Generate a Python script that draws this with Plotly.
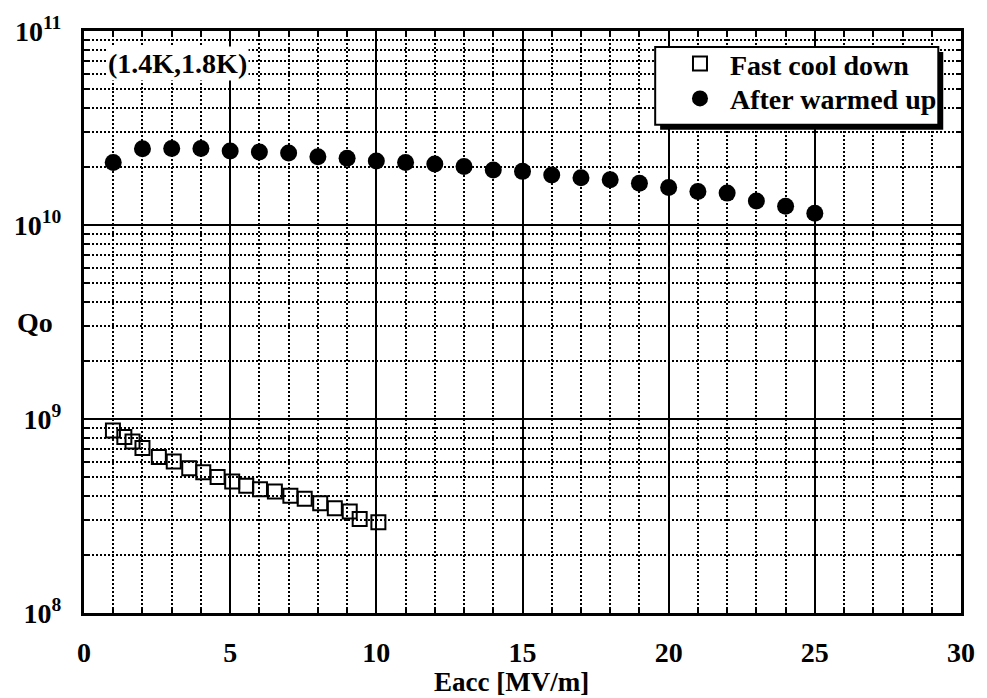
import plotly.graph_objects as go

# Q0 versus accelerating field for the two cooling conditions
eacc_fast = [0.99, 1.38, 1.66, 2.0, 2.56, 3.07, 3.6, 4.08, 4.57, 5.07,
             5.55, 6.02, 6.53, 7.06, 7.55, 8.08, 8.58, 9.09, 9.43, 10.07]
q0_fast = [8.73e8, 8.07e8, 7.66e8, 7.08e8, 6.37e8, 6.04e8, 5.58e8, 5.32e8, 5.02e8, 4.76e8,
           4.53e8, 4.35e8, 4.23e8, 4.02e8, 3.88e8, 3.68e8, 3.47e8, 3.34e8, 3.05e8, 2.94e8]

eacc_warm = [1, 2, 3, 4, 5, 6, 7, 8, 9, 10, 11, 12, 13,
             14, 15, 16, 17, 18, 19, 20, 21, 22, 23, 24, 25]
q0_warm = [2.10e10, 2.47e10, 2.48e10, 2.48e10, 2.41e10, 2.38e10, 2.35e10, 2.25e10, 2.21e10,
           2.14e10, 2.10e10, 2.06e10, 2.00e10, 1.92e10, 1.89e10, 1.81e10, 1.75e10, 1.71e10,
           1.64e10, 1.56e10, 1.49e10, 1.46e10, 1.33e10, 1.25e10, 1.15e10]

x_ticks = [0, 5, 10, 15, 20, 25, 30]
y_ticks = [1e8, 1e9, 1e10, 1e11]
y_ticktext = ["10<sup>8</sup>", "10<sup>9</sup>", "10<sup>10</sup>", "10<sup>11</sup>"]
y_minor = [k * 10 ** d for d in (8, 9, 10) for k in range(2, 10)]

series_names = ["Fast cool down", "After warmed up"]
temp_label = "(1.4K,1.8K)"
x_title = "Eacc [MV/m]"
y_title = "Qo"

W, H = 987, 698
ML, MR, MT, MB = 84, 14, 29, 85
PW, PH = W - ML - MR, H - MT - MB


def px(x):
    return (x - ML) / PW


def py(y):
    return (H - MB - y) / PH


FONT = dict(family="Liberation Serif", size=28, color="black", weight="bold")

fig = go.Figure()
fig.add_trace(go.Scatter(
    x=eacc_fast, y=q0_fast, mode="markers", name=series_names[0], legend="legend",
    marker=dict(symbol="square-open", size=14, color="black", line=dict(width=2, color="black")),
))
fig.add_trace(go.Scatter(
    x=eacc_warm, y=q0_warm, mode="markers", name=series_names[1], legend="legend2",
    marker=dict(symbol="circle", size=17, color="black"),
))

axis_common = dict(
    showline=True, linecolor="black", linewidth=3, mirror="ticks",
    ticks="inside", ticklen=8, tickwidth=2, tickcolor="black",
    showgrid=True, gridcolor="black", gridwidth=2, zeroline=False,
    tickfont=FONT,
)
minor_common = dict(showgrid=True, gridcolor="black", griddash="2px,2px", gridwidth=2,
                    ticks="inside", ticklen=5, tickwidth=2, tickcolor="black")

fig.update_xaxes(
    range=[0, 30], tickvals=x_ticks, ticklabelstandoff=12,
    minor=dict(dtick=1, **minor_common),
    **axis_common,
)
fig.update_yaxes(
    type="log", range=[8, 11], tickvals=y_ticks, ticktext=y_ticktext, ticklabelstandoff=14,
    minor=dict(tickvals=y_minor, **minor_common),
    **axis_common,
)

# legend frame with drop shadow
shadow = 5
box = (663, 45, 950, 123)
fig.add_shape(type="rect", xref="paper", yref="paper", layer="above",
              x0=px(box[0] + shadow), x1=px(box[2] + shadow),
              y0=py(box[3] + shadow), y1=py(box[1] + shadow),
              fillcolor="black", line=dict(width=0))
fig.add_shape(type="rect", xref="paper", yref="paper", layer="above",
              x0=px(box[0]), x1=px(box[2]), y0=py(box[3]), y1=py(box[1]),
              fillcolor="white", line=dict(width=2, color="black"))

fig.add_annotation(text=temp_label, xref="paper", yref="paper", x=px(179), y=py(62),
                   showarrow=False, bgcolor="white", font=FONT, xanchor="center", yanchor="middle")
fig.add_annotation(text=y_title, xref="paper", yref="paper", x=px(34), y=py(322),
                   showarrow=False, font=FONT, xanchor="center", yanchor="middle")
fig.add_annotation(text=x_title, xref="paper", yref="paper", x=px(517), y=py(682),
                   showarrow=False, font=dict(FONT, size=27), xanchor="center", yanchor="middle",
                   borderpad=0)

legend_common = dict(xanchor="left", yanchor="middle", bgcolor="rgba(0,0,0,0)",
                     borderwidth=0, font=FONT, itemwidth=50)
fig.update_layout(
    width=W, height=H,
    margin=dict(l=ML, r=MR, t=MT, b=MB, pad=0),
    paper_bgcolor="white", plot_bgcolor="white",
    font=FONT,
    showlegend=True,
    legend=dict(x=px(678), y=py(62), **legend_common),
    legend2=dict(x=px(678), y=py(97), **legend_common),
)

fig.write_html("out.html")
